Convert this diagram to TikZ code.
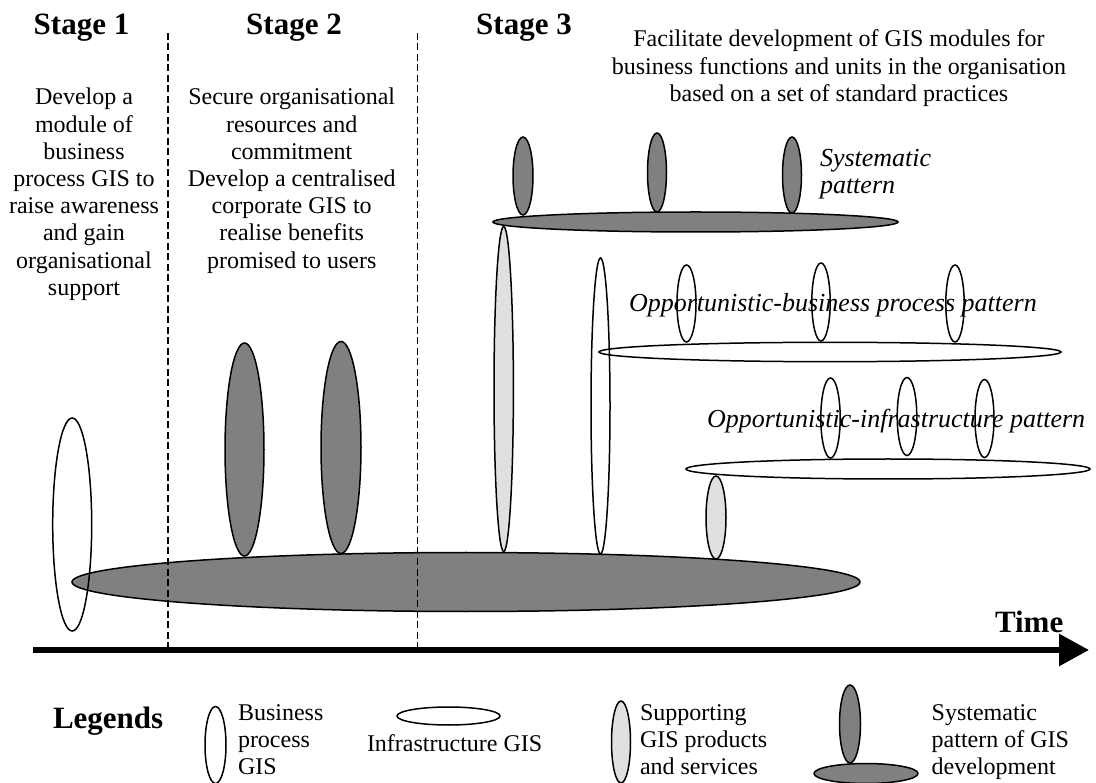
\documentclass[tikz,border=0pt]{standalone}
\usepackage{fontspec}
\setmainfont{Liberation Serif}
\usetikzlibrary{shapes.geometric,arrows.meta}
\definecolor{darkg}{RGB}{128,128,128}
\definecolor{dotg}{RGB}{224,224,224}
\newcommand\myell[6]{\node[ell,#1,minimum width={2*#5pt},minimum height={2*#6pt}] (#2) at (#3,#4) {};}
\begin{document}
\begin{tikzpicture}[x=1pt,y=-1pt,
  ell/.style={ellipse, draw=black, line width=1.5pt, inner sep=0pt, outer sep=0pt},
  gfill/.style={fill=darkg},
  dfill/.style={fill=dotg},
  body/.style={font=\fontsize{24}{27.2}\selectfont, inner sep=0pt, outer sep=0pt},
  head/.style={font=\bfseries\fontsize{31}{35}\selectfont, inner sep=0pt, outer sep=0pt, anchor=base},
  ital/.style={font=\itshape\fontsize{26}{27}\selectfont, inner sep=0pt, outer sep=0pt, anchor=base west},
  divider/.style={dash pattern=on 7pt off 3.5pt, line width=1.8pt}]
\fill[white] (0,0) rectangle (1096,783);
\useasboundingbox (0,0) rectangle (1096,783);

% headings
\node[head] (st1) at (81.5,35) {Stage 1};
\node[head] (st2) at (294,35) {Stage 2};
\node[head] (st3) at (524,35) {Stage 3};
\node[head, anchor=base west] (time) at (995,632) {Time};
\node[head, anchor=base west] (leg) at (53,728) {Legends};

% stage texts
\node[body, anchor=base] (t1) at (84,105) {\begin{tabular}[t]{@{}c@{}}Develop a\\ module of\\ business\\ process GIS to\\ raise awareness\\ and gain\\ organisational\\ support\end{tabular}};
\node[body, anchor=base] (t2) at (291.7,105) {\begin{tabular}[t]{@{}c@{}}Secure organisational\\ resources and\\ commitment\\ Develop a centralised\\ corporate GIS to\\ realise benefits\\ promised to users\end{tabular}};
\node[body, anchor=base] (t3) at (839,47) {\begin{tabular}[t]{@{}c@{}}Facilitate development of GIS modules for\\ business functions and units in the organisation\\ based on a set of standard practices\end{tabular}};

% pattern labels
\node[ital] (lsys) at (820,167) {\begin{tabular}[t]{@{}l@{}}Systematic\\ pattern\end{tabular}};
\node[ital] (lobp) at (629,311.7) {Opportunistic-business process pattern};
\node[ital] (loip) at (707,428) {Opportunistic-infrastructure pattern};

% legend texts
\node[body, anchor=base west] (lg1) at (238,720) {\begin{tabular}[t]{@{}l@{}}Business\\ process\\ GIS\end{tabular}};
\node[body, anchor=base west] (lg2) at (367,751) {Infrastructure GIS};
\node[body, anchor=base west] (lg3) at (640,720) {\begin{tabular}[t]{@{}l@{}}Supporting\\ GIS products\\ and services\end{tabular}};
\node[body, anchor=base west] (lg4) at (931.7,720) {\begin{tabular}[t]{@{}l@{}}Systematic\\ pattern of GIS\\ development\end{tabular}};

% main ellipses
\myell{dfill}{sup1}{503.7}{389}{9.7}{162.5}
\myell{gfill}{cg1}{244.5}{449.5}{19.5}{106.5}
\myell{gfill}{cg2}{341}{447.5}{20}{106}
\myell{gfill}{infra0}{466}{582}{394}{29.5}
\myell{}{bp0}{72.2}{524.5}{19.5}{106.5}
\myell{}{bp1}{600.5}{406}{9.5}{148}
\myell{dfill}{sup2}{716}{517.5}{10}{41.5}

% systematic pattern
\myell{gfill}{sy1}{523}{176}{10}{39}
\myell{gfill}{sy2}{657}{172.5}{9.5}{39.5}
\myell{gfill}{sy3}{792}{175}{9.5}{38}
\myell{gfill}{syb}{695.5}{222}{202.5}{10}

% opportunistic business process
\myell{}{ob1}{686.5}{303.5}{9.5}{38.5}
\myell{}{ob2}{821}{302}{9.2}{39}
\myell{}{ob3}{955}{303.5}{9.2}{38.5}
\myell{}{obb}{830}{352}{231}{9.7}

% opportunistic infrastructure
\myell{}{oi1}{830.5}{418}{9.7}{40}
\myell{}{oi2}{907}{416.5}{9.8}{39}
\myell{}{oi3}{984.5}{418.5}{9.5}{39}
\myell{}{oib}{888}{469}{202}{10}

% legend symbols
\myell{}{le1}{215.5}{745}{10.5}{38.5}
\myell{}{le2}{448.5}{716}{51.5}{9}
\myell{dfill}{le3}{621}{742}{9.5}{41}
\myell{gfill}{le4}{850}{724}{10.5}{39}
\myell{gfill}{le5}{866}{773.5}{52}{10}

% stage dividers
\coordinate (d1t) at (167.7,33);
\coordinate (d1b) at (167.7,647);
\coordinate (d2t) at (417.5,33);
\coordinate (d2b) at (417.5,647);
\draw[divider] (d1t) -- (d1b);
\draw[divider] (d2t) -- (d2b);

% time axis
\coordinate (ax0) at (33,650);
\coordinate (ax1) at (1089,650);
\draw[line width=6pt, -{Triangle[length=30pt,width=31pt]}] (ax0) -- (ax1);
\end{tikzpicture}
\end{document}
